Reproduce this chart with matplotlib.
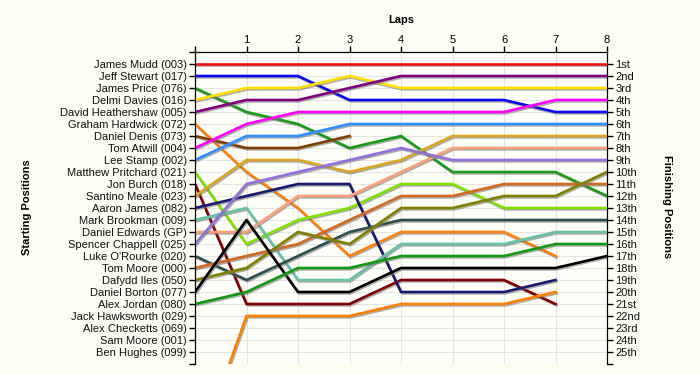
import numpy as np
import matplotlib
matplotlib.use("Agg")
import matplotlib.pyplot as plt
import matplotlib.patheffects as pe

plt.rcParams['font.family'] = ['Liberation Sans', 'DejaVu Sans']

nan = np.nan

# laps 0..8
laps = list(range(9))

starters = ["James Mudd (003)", "Jeff Stewart (017)", "James Price (076)",
            "Delmi Davies (016)", "David Heathershaw (005)", "Graham Hardwick (072)",
            "Daniel Denis (073)", "Tom Atwill (004)", "Lee Stamp (002)",
            "Matthew Pritchard (021)", "Jon Burch (018)", "Santino Meale (023)",
            "Aaron James (082)", "Mark Brookman (009)", "Daniel Edwards (GP)",
            "Spencer Chappell (025)", "Luke O'Rourke (020)", "Tom Moore (000)",
            "Dafydd Iles (050)", "Daniel Borton (077)", "Alex Jordan (080)",
            "Jack Hawksworth (029)", "Alex Checketts (069)", "Sam Moore (001)",
            "Ben Hughes (099)"]

finish_labels = ["1st", "2nd", "3rd"] + [f"{i}th" for i in range(4, 21)] + \
                ["21st", "22nd", "23rd", "24th", "25th"]

# position per lap (lap 0 = grid)
mudd = [1, 1, 1, 1, 1, 1, 1, 1, 1]
stewart = [2, 2, 2, 4, 4, 4, 4, 5, 5]
price = [3, 5, 6, 8, 7, 10, 10, 10, 12]
davies = [4, 3, 3, 2, 3, 3, 3, 3, 3]
heathershaw = [5, 4, 4, 3, 2, 2, 2, 2, 2]
hardwick = [6, 10, 13, 17, 15, 15, 15, 17, nan]
denis = [7, 8, 8, 7, nan, nan, nan, nan, nan]
atwill = [8, 6, 5, 5, 5, 5, 5, 4, 4]
stamp = [9, 7, 7, 6, 6, 6, 6, 6, 6]
pritchard = [10, 16, 14, 13, 11, 11, 13, 13, 13]
burch = [11, 21, 21, 21, 19, 19, 19, 21, nan]
meale = [12, 9, 9, 10, 9, 7, 7, 7, 7]
ajames = [13, 12, 11, 11, 20, 20, 20, 19, nan]
brookman = [14, 13, 19, 19, 16, 16, 16, 15, 15]
edwards = [15, 15, 12, 12, 10, 8, 8, 8, 8]
chappell = [16, 11, 10, 9, 8, 9, 9, 9, 9]
orourke = [17, 19, 17, 15, 14, 14, 14, 14, 14]
tmoore = [18, 17, 16, 14, 12, 12, 11, 11, 11]
iles = [19, 18, 15, 16, 13, 13, 12, 12, 10]
borton = [20, 14, 20, 20, 18, 18, 18, 18, 17]
jordan = [21, 20, 18, 18, 17, 17, 17, 16, 16]
pitstart = [34, 22, 22, 22, 21, 21, 21, 20, nan]

series = [
    (mudd, "#ee1111"), (stewart, "#0a0aee"), (price, "#1a9a1a"),
    (davies, "#ffe000"), (heathershaw, "#800080"), (hardwick, "#ff7f0e"),
    (denis, "#7f3f00"), (atwill, "#ff00ff"), (stamp, "#2f8fff"),
    (pritchard, "#80e000"), (burch, "#800000"), (meale, "#daa520"),
    (ajames, "#191970"), (brookman, "#66c2a5"), (edwards, "#ffa07a"),
    (chappell, "#9370db"), (orourke, "#2f4f4f"), (tmoore, "#d2691e"),
    (iles, "#808000"), (borton, "#000000"), (jordan, "#119911"),
    (pitstart, "#ff8000"),
]

fig = plt.figure(figsize=(7, 3.75), dpi=100, facecolor="#fdfdf2")
ax = fig.add_axes([195 / 700, 1 - 364 / 375, 412 / 700, 312 / 375])
ax.set_facecolor("#fffffa")

shadow = [pe.SimpleLineShadow(offset=(0.8, -1.0), shadow_color="#777777", alpha=0.6),
          pe.Normal()]
for vals, col in series:
    ax.plot(laps, vals, color=col, lw=1.9, path_effects=shadow, zorder=3)

ax.set_xlim(0, 8)
ax.set_ylim(26, 0)

ax.set_yticks(range(1, 26))
ax.set_yticklabels(starters, fontsize=8, color="#111111")
ax.set_yticks([0, 26], minor=True)
ax.xaxis.tick_top()
ax.set_xticks(range(0, 9))
ax.set_xticklabels([""] + [str(i) for i in range(1, 9)], fontsize=8)
ax.xaxis.set_label_position("top")
ax.set_xlabel("Laps", fontsize=8, fontweight="bold", labelpad=9)
ax.tick_params(axis="both", which="both", direction="out", length=4, width=1)
ax.tick_params(axis="x", pad=1)
ax.tick_params(axis="y", pad=2)
ax.grid(True, color="#e4e4e4", lw=0.8, zorder=0)
ax.spines["bottom"].set_visible(False)

ax2 = ax.twinx()
ax2.set_ylim(26, 0)
ax2.set_yticks(range(1, 26))
ax2.set_yticklabels(finish_labels, fontsize=8, color="#111111")
ax2.set_yticks([26], minor=True)
ax2.tick_params(axis="y", which="both", direction="out", length=4, width=1, pad=2)
ax2.spines["bottom"].set_visible(False)

fig.text(27 / 700, 1 - 207 / 375, "Starting Positions", rotation=90,
         fontsize=8, fontweight="bold", ha="center", va="center")
fig.text(667 / 700, 1 - 207 / 375, "Finishing Positions", rotation=270,
         fontsize=8, fontweight="bold", ha="center", va="center")

fig.savefig("out.png", dpi=100, facecolor=fig.get_facecolor())
